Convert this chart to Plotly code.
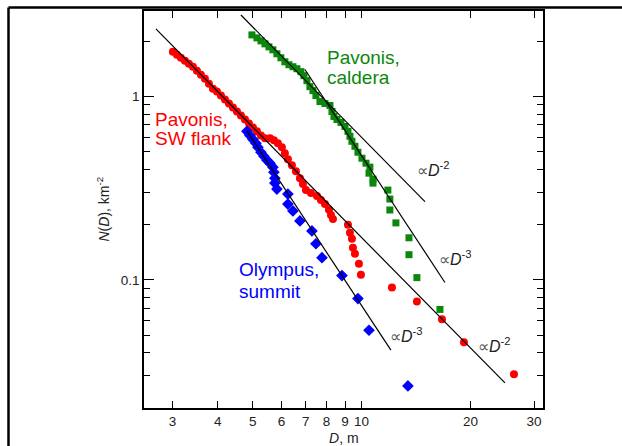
import math
import plotly.graph_objects as go

# ---------------- data ----------------
# Pavonis, SW flank (red circles): crater diameter D [m], cumulative density N(D) [km^-2]
red_D = [3.005, 3.083, 3.162, 3.244, 3.328, 3.414, 3.502, 3.593, 3.686, 3.781,
         3.879, 3.978, 4.081, 4.187, 4.295, 4.405, 4.519, 4.636, 4.756, 4.879,
         5.004, 5.133, 5.266, 5.402, 5.577, 5.718, 5.866, 6.017, 6.133, 6.252,
         6.414, 6.580, 6.750, 6.880, 7.013, 7.240, 7.523, 7.717, 7.917, 8.121,
         8.226, 8.331, 9.165, 9.282, 9.401, 9.461, 9.582, 9.829, 9.955, 12.13,
         14.22, 16.68, 19.19, 26.39]
red_N = [1.754, 1.690, 1.628, 1.568, 1.510, 1.455, 1.384, 1.316, 1.252, 1.176,
         1.105, 1.065, 1.013, 0.963, 0.916, 0.872, 0.829, 0.789, 0.750, 0.714,
         0.679, 0.646, 0.614, 0.592, 0.592, 0.577, 0.556, 0.529, 0.491, 0.455,
         0.422, 0.392, 0.359, 0.333, 0.309, 0.298, 0.287, 0.273, 0.259, 0.241,
         0.226, 0.215, 0.1996, 0.1805, 0.1675, 0.1497, 0.1389, 0.1226, 0.1068, 0.0908,
         0.0762, 0.0609, 0.0457, 0.0306]

# Pavonis, caldera (green squares)
green_D = [4.972, 5.133, 5.266, 5.402, 5.541, 5.682, 5.829, 5.979, 6.133, 6.292,
           6.455, 6.622, 6.793, 6.924, 7.058, 7.193, 7.333, 7.474, 7.668, 7.917,
           8.173, 8.278, 8.384, 8.546, 8.766, 8.992, 9.165, 9.282, 9.401, 9.582,
           9.767, 10.02, 10.28, 10.54, 10.48, 10.75, 10.75, 11.82, 11.97, 11.97,
           12.44, 13.52, 13.52, 14.22, 16.47]
green_N = [2.170, 2.090, 2.013, 1.939, 1.867, 1.799, 1.712, 1.628, 1.548, 1.492,
           1.455, 1.419, 1.367, 1.300, 1.221, 1.133, 1.078, 1.013, 0.9394, 0.916,
           0.894, 0.829, 0.779, 0.750, 0.723, 0.6875, 0.646, 0.607, 0.570, 0.5356,
           0.497, 0.461, 0.433, 0.412, 0.382, 0.3545, 0.3372, 0.309, 0.276, 0.2406,
           0.2046, 0.1697, 0.1372, 0.1029, 0.0690]

# Olympus, summit (blue diamonds)
blue_D = [4.815, 4.908, 5.004, 5.100, 5.166, 5.266, 5.367, 5.471, 5.577, 5.682,
          5.718, 5.755, 5.755, 5.829, 6.252, 6.252, 6.455, 6.750, 7.286, 7.474,
          7.767, 8.822, 9.767, 10.48, 13.43]
blue_N = [0.646, 0.614, 0.584, 0.556, 0.529, 0.497, 0.4725, 0.4495, 0.433, 0.412,
          0.387, 0.359, 0.3372, 0.313, 0.294, 0.259, 0.2377, 0.2098, 0.185, 0.1574,
          0.1321, 0.1055, 0.0791, 0.0531, 0.0264]

# power-law guide lines (end points)
fit_red_D = [2.697, 24.92]
fit_red_N = [2.339, 0.0274]
fit_green2_D = [4.636, 14.97]
fit_green2_N = [2.786, 0.2672]
fit_green3_D = [6.968, 17.0]
fit_green3_N = [1.405, 0.0968]
fit_blue3_D = [4.815, 12.05]
fit_blue3_N = [0.648, 0.04134]

x_ticks = [3, 4, 5, 6, 7, 8, 9, 10, 20, 30]
x_ticktext = ["3", "4", "5", "6", "7", "8", "9", "10", "20", "30"]
y_ticks = [0.1, 1]
y_ticktext = ["0.1", "1"]
y_minor = [0.03, 0.04, 0.05, 0.06, 0.07, 0.08, 0.09,
           0.2, 0.3, 0.4, 0.5, 0.6, 0.7, 0.8, 0.9, 2]

RED = "#ff0000"
GREEN = "#0b870b"
BLUE = "#0000ff"
FONT = "Liberation Sans, Arial, sans-serif"

fig = go.Figure()
fig.add_trace(go.Scatter(x=red_D, y=red_N, mode="markers",
                         marker=dict(symbol="circle", size=8, color=RED, line=dict(width=0))))
fig.add_trace(go.Scatter(x=green_D, y=green_N, mode="markers",
                         marker=dict(symbol="square", size=7, color=GREEN, line=dict(width=0))))
fig.add_trace(go.Scatter(x=blue_D, y=blue_N, mode="markers",
                         marker=dict(symbol="diamond", size=9, color=BLUE, line=dict(width=0))))
for xs, ys in [(fit_red_D, fit_red_N), (fit_green2_D, fit_green2_N),
               (fit_green3_D, fit_green3_N), (fit_blue3_D, fit_blue3_N)]:
    fig.add_trace(go.Scatter(x=xs, y=ys, mode="lines",
                             line=dict(color="black", width=1.2)))

labels = [
    ("Pavonis,", 2.646, 0.750, RED),
    ("SW flank", 2.646, 0.592, RED),
    ("Pavonis,", 7.917, 1.628, GREEN),
    ("caldera", 7.917, 1.268, GREEN),
    ("Olympus,", 4.519, 0.1137, BLUE),
    ("summit", 4.519, 0.0864, BLUE),
]
annotations = []
for t, x, y, c in labels:
    annotations.append(dict(x=math.log10(x), y=math.log10(y), xref="x", yref="y",
                            text=t, showarrow=False, xanchor="left", yanchor="middle",
                            font=dict(size=19, color=c, family=FONT)))

prop = [("-2", 14.05, 0.4017), ("-3", 16.16, 0.1321), ("-3", 11.82, 0.04985), ("-2", 20.72, 0.0440)]
for p, x, y in prop:
    annotations.append(dict(x=math.log10(x), y=math.log10(y), xref="x", yref="y",
                            text="<span style='color:#555'>\u221d</span><i>D</i><sup>" + p + "</sup>",
                            showarrow=False, xanchor="left", yanchor="middle",
                            font=dict(size=16, color="#222", family=FONT)))

# axis titles
annotations.append(dict(x=0, y=0.5, xref="paper", yref="paper", xshift=-41,
                        text="<i>N</i>(<i>D</i>), km<sup>-2</sup>", textangle=-90,
                        showarrow=False, xanchor="center", yanchor="middle",
                        font=dict(size=14, color="#222", family=FONT)))
annotations.append(dict(x=0.5, y=0, xref="paper", yref="paper", yshift=-30,
                        text="<i>D</i>, m", showarrow=False,
                        xanchor="center", yanchor="middle",
                        font=dict(size=14, color="#222", family=FONT)))

fig.update_layout(
    width=622, height=446,
    margin=dict(l=144, r=79, t=9, b=38),
    plot_bgcolor="white", paper_bgcolor="white",
    showlegend=False,
    font=dict(family=FONT, color="#222", size=13.5),
    annotations=annotations,
    shapes=[
        dict(type="line", xref="paper", yref="paper", x0=-0.3396, x1=-0.3396, y0=1.0088, y1=-0.2,
             line=dict(color="black", width=2.5)),
        dict(type="line", xref="paper", yref="paper", x0=-0.3396, x1=1.3, y0=1.0088, y1=1.0088,
             line=dict(color="black", width=2.5)),
    ],
)
fig.update_xaxes(type="log", range=[math.log10(2.5), math.log10(31.75)],
                 tickvals=x_ticks, ticktext=x_ticktext,
                 ticks="inside", ticklen=7, tickwidth=1.2, tickcolor="black",
                 showline=True, linecolor="black", linewidth=1.5, mirror="ticks",
                 showgrid=False, zeroline=False,
                 tickfont=dict(size=13.5, color="#222", family=FONT))
fig.update_yaxes(type="log", range=[math.log10(0.02), math.log10(2.93)],
                 tickvals=y_ticks, ticktext=y_ticktext,
                 ticks="inside", ticklen=10, tickwidth=1.2, tickcolor="black",
                 minor=dict(tickvals=y_minor, ticks="inside", ticklen=6,
                            tickwidth=1.2, tickcolor="black", showgrid=False),
                 showline=True, linecolor="black", linewidth=1.5, mirror="ticks",
                 showgrid=False, zeroline=False,
                 tickfont=dict(size=13.5, color="#222", family=FONT))

fig.write_html("out.html", config={"displayModeBar": False},
               post_script="document.body.style.margin='0';document.body.style.overflow='hidden';")
